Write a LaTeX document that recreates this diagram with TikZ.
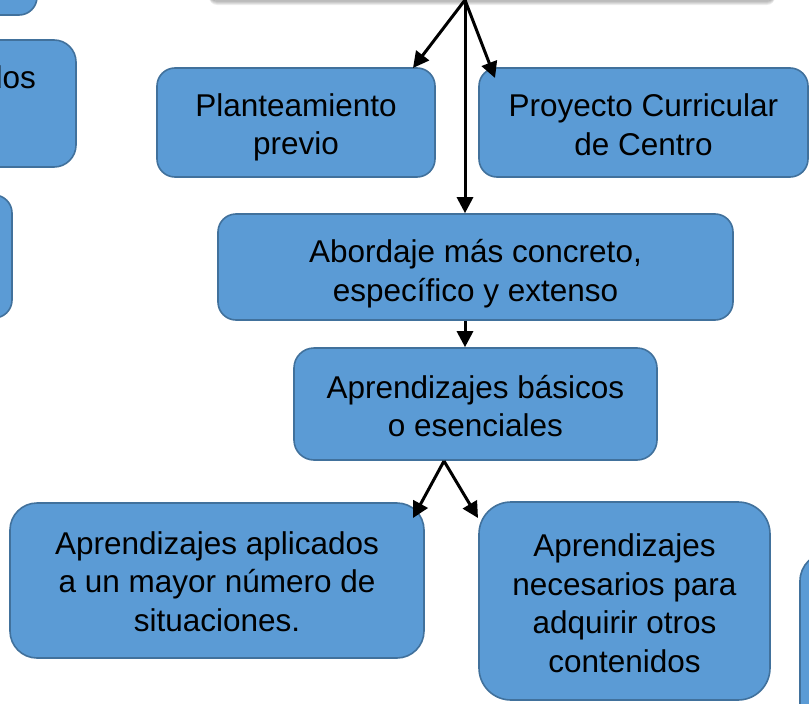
\documentclass[tikz,border=0pt]{standalone}
\usepackage{fontspec}
\setmainfont{Liberation Sans}
\usetikzlibrary{arrows.meta}
\definecolor{boxfill}{HTML}{5B9BD5}
\definecolor{boxline}{HTML}{41719C}
\newcommand\liftline[1]{\vrule height #1 width 0pt}
\begin{document}
\begin{tikzpicture}[x=1pt,y=-1pt,
  box/.style={draw=boxline, line width=1.6pt, fill=boxfill, rounded corners=#1,
    align=center, inner sep=0pt, font=\fontsize{31.5}{38.5}\selectfont},
  box/.default=18pt,
  conn/.style={line width=3pt, -{Triangle[length=16pt,width=16pt]}}]
\useasboundingbox (0,0) rectangle (809,704);
\clip (0,0) rectangle (809,704);
% top box (only its shadow shows)
\foreach \d in {1,...,5}
  \fill[black, opacity=0.07, rounded corners=8pt] (209,-60) rectangle (775,\d);
\node[fill=white, rounded corners=8pt, minimum width=570pt, minimum height=60pt, inner sep=0pt] (top) at (492,-30) {};
% partial boxes at the edges
\node[box=18pt, minimum width=237pt, minimum height=115pt] (tl) at (-81.5,-42.5) {};
\node[box=22pt, minimum width=326pt, minimum height=127pt] (dos) at (-87,103.5) {};
\node[anchor=base east, inner sep=0pt, font=\fontsize{31.5}{38.5}\selectfont] (dostext) at (36,88) {dos};
\node[box=18pt, minimum width=262pt, minimum height=123pt] (ml) at (-119,256.5) {};
\node[box=28pt, minimum width=300pt, minimum height=247pt] (br) at (950,676.5) {};
% main boxes
\node[box=18pt, minimum width=278pt, minimum height=109pt] (plan) at (296,122.5) {\liftline{33pt}Planteamiento\\previo};
\node[box=18pt, minimum width=329pt, minimum height=109pt] (proy) at (643.5,122.5) {\liftline{27pt}Proyecto Curricular\\de Centro};
\node[box=18pt, minimum width=515pt, minimum height=106pt] (abord) at (475.5,267) {\liftline{37pt}Abordaje más concreto,\\específico y extenso};
\node[box=20pt, minimum width=363pt, minimum height=112pt] (basic) at (475.5,404) {\liftline{27pt}Aprendizajes básicos\\o esenciales};
\node[box=27pt, minimum width=414pt, minimum height=155pt] (aplic) at (217,580.5) {\liftline{25pt}Aprendizajes aplicados\\a un mayor número de\\situaciones.};
\node[box=32pt, minimum width=291pt, minimum height=198pt] (neces) at (624.5,601) {\liftline{27pt}Aprendizajes\\necesarios para\\adquirir otros\\contenidos};
% connectors
\coordinate (src) at (465,0);
\coordinate (tplan) at (413,68);
\coordinate (tproy) at (495,78);
\draw[conn] (src) -- (tplan);
\draw[conn] (src) -- (tproy);
\draw[conn] (src) -- (src |- abord.north);
\draw[conn] (abord.south -| src) -- (basic.north -| src);
\coordinate (bsrc) at (444,461);
\coordinate (taplic) at (413,518);
\coordinate (tneces) at (478,518);
\draw[conn] (bsrc) -- (taplic);
\draw[conn] (bsrc) -- (tneces);
\end{tikzpicture}
\end{document}
